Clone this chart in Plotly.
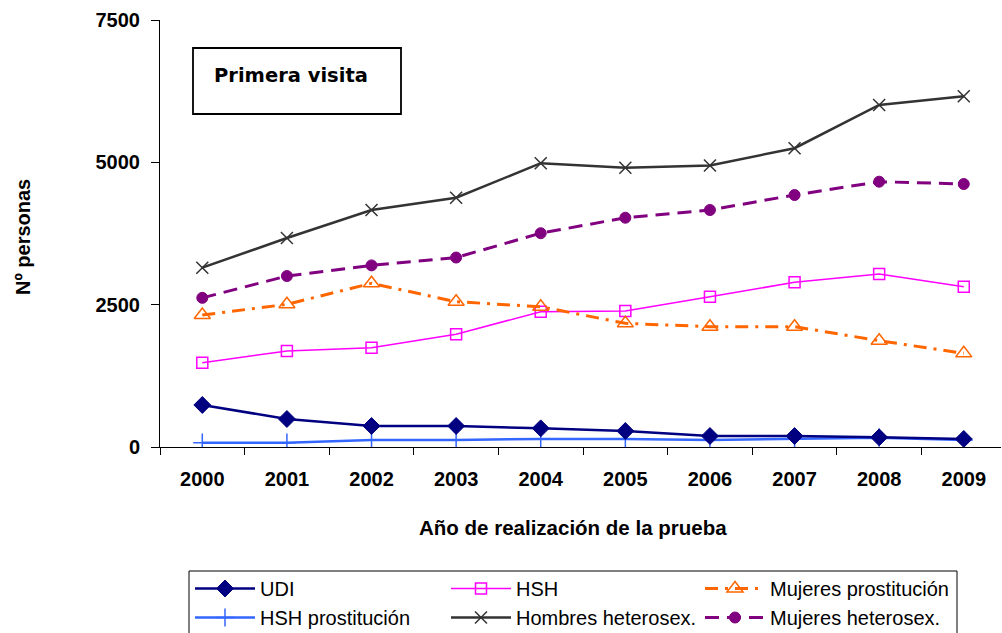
import plotly.graph_objects as go

years = ["2000", "2001", "2002", "2003", "2004", "2005", "2006", "2007", "2008", "2009"]
udi = [738, 492, 369, 369, 328, 281, 193, 193, 170, 141]
hsh = [1481, 1686, 1744, 1979, 2377, 2389, 2640, 2892, 3039, 2816]
mujeres_prost = [2318, 2506, 2875, 2552, 2464, 2172, 2113, 2113, 1867, 1645]
hsh_prost = [76, 76, 123, 123, 141, 141, 123, 141, 164, 123]
hombres_het = [3150, 3670, 4163, 4378, 4985, 4905, 4945, 5248, 6007, 6160]
mujeres_het = [2620, 3003, 3190, 3328, 3755, 4027, 4163, 4426, 4660, 4619]

xs = list(range(len(years)))
F = "Arial, Liberation Sans, sans-serif"

fig = go.Figure()

def add(name, y, color, width, dash, symbol, msize, mline, legend, rank):
    fig.add_trace(go.Scatter(
        x=xs, y=y, name=name, mode="lines+markers",
        line=dict(color=color, width=width, dash=dash),
        marker=dict(symbol=symbol, size=msize, color=color,
                    line=dict(color=color, width=mline)),
        legend=legend, legendrank=rank,
    ))

add("HSH prostitución", hsh_prost, "#3366FF", 2.5, "solid", "cross-thin-open", 13, 1.5, "legend", 2)
add("UDI", udi, "#000080", 2.5, "solid", "diamond", 13, 1, "legend", 1)
add("HSH", hsh, "#FF00FF", 1.5, "solid", "square-open", 11, 1.5, "legend2", 1)
add("Hombres heterosex.", hombres_het, "#333333", 2.5, "solid", "x-thin-open", 12, 1.5, "legend2", 2)
add("Mujeres prostitución", mujeres_prost, "#FF6600", 3, "13px,7px,3px,7px", "triangle-up-open", 14, 1.5, "legend3", 1)
add("Mujeres heterosex.", mujeres_het, "#800080", 3, "14px,8px", "circle", 11, 1, "legend3", 2)

L, R, T, B = 160, 1, 20, 186
pw, ph = 1002 - L - R, 633 - T - B

def px(x):
    return (x - L) / pw

def py(y):
    return (633 - B - y) / ph

legfont = dict(family=F, size=20, color="black")
common = dict(font=legfont, bgcolor="rgba(0,0,0,0)", borderwidth=0,
              orientation="v", xanchor="left", yanchor="top",
              traceorder="normal", tracegroupgap=0, itemwidth=60)

fig.update_layout(
    width=1002, height=633,
    margin=dict(l=L, r=R, t=T, b=B, autoexpand=False),
    paper_bgcolor="white", plot_bgcolor="white",
    font=dict(family=F, color="black"),
    legend=dict(x=px(190), y=py(569), **common),
    legend2=dict(x=px(446), y=py(569), **common),
    legend3=dict(x=px(700), y=py(569), **common),
    xaxis=dict(
        range=[-0.5, 9.44], tickmode="array", tickvals=xs, ticktext=years,
        ticks="", showline=True, linecolor="black", linewidth=1,
        showgrid=False, zeroline=False,
        tickfont=dict(family=F, size=20, color="black", weight="bold"),
        ticklabelstandoff=14,
        minor=dict(tickmode="array", tickvals=[i - 0.5 for i in range(11)],
                   ticks="outside", ticklen=7, tickcolor="black", tickwidth=1),
    ),
    yaxis=dict(
        range=[0, 7500], tickmode="array", tickvals=[0, 2500, 5000, 7500],
        ticks="outside", ticklen=8, tickcolor="black", showline=True,
        linecolor="black", linewidth=1, showgrid=False, zeroline=False,
        tickfont=dict(family=F, size=20, color="black", weight="bold"),
        ticklabelstandoff=7,
    ),
    shapes=[
        dict(type="rect", xref="paper", yref="paper",
             x0=px(193), x1=px(401), y0=py(114), y1=py(48),
             line=dict(color="black", width=1.8), fillcolor="white", layer="below"),
        dict(type="rect", xref="paper", yref="paper",
             x0=px(189), x1=px(957), y0=py(640), y1=py(571),
             line=dict(color="black", width=1), fillcolor="white", layer="below"),
    ],
    annotations=[
        dict(text="Primera visita", xref="paper", yref="paper", x=px(212), y=py(75),
             xanchor="left", yanchor="middle", showarrow=False,
             font=dict(family="DejaVu Sans", size=19.5, color="black", weight="bold")),
        dict(text="Año de realización de la prueba", xref="paper", yref="paper",
             x=px(573), y=py(527), xanchor="center", yanchor="middle", showarrow=False,
             font=dict(family=F, size=20.5, color="black", weight="bold")),
        dict(text="Nº personas", xref="paper", yref="paper", x=px(23), y=py(237),
             xanchor="center", yanchor="middle", showarrow=False, textangle=-90,
             font=dict(family=F, size=20, color="black", weight="bold")),
    ],
)

fig.write_html("out.html", config={"displayModeBar": False},
               post_script="document.body.style.margin='0px';")
